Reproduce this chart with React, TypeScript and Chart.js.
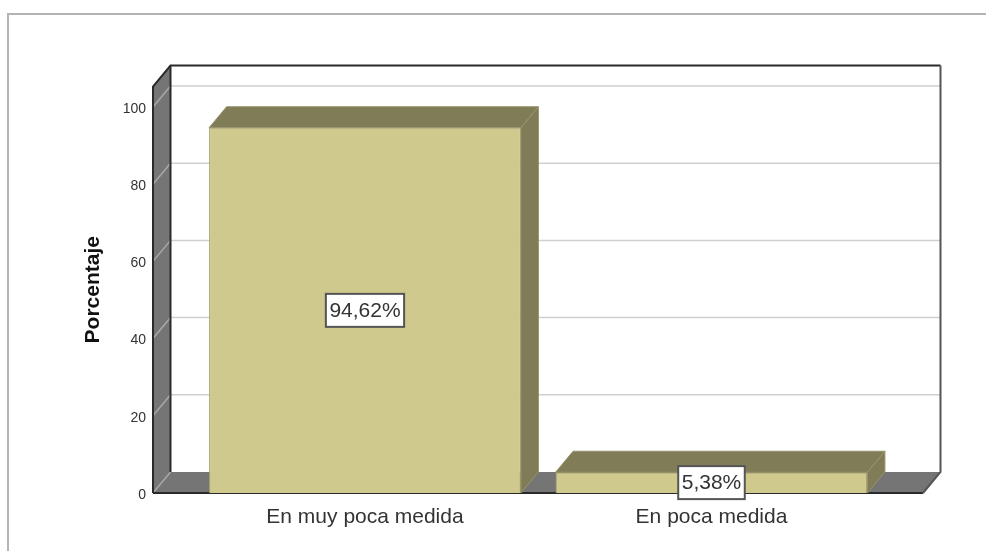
import React, { useEffect, useRef } from "react";
import { Chart, registerables } from "chart.js";

Chart.register(...registerables);

const categories = ["En muy poca medida", "En poca medida"];
const percentages = [94.62, 5.38];
const percentageLabels = ["94,62%", "5,38%"];
const yTicks = [0, 20, 40, 60, 80, 100];
const yAxisTitle = "Porcentaje";

const FONT = '"Liberation Sans", Arial, sans-serif';
const DX = 17.5;
const DY = -21;

const walls3D = {
  id: "walls3D",
  beforeDatasetsDraw(chart: any) {
    const { ctx, chartArea: a, scales } = chart;
    const y = scales.y;
    ctx.save();
    ctx.fillStyle = "#ffffff";
    ctx.fillRect(a.left + DX, a.top + DY, a.right - a.left, a.bottom - a.top);
    // side wall and floor
    ctx.fillStyle = "#757575";
    ctx.beginPath();
    ctx.moveTo(a.left, a.top);
    ctx.lineTo(a.left + DX, a.top + DY);
    ctx.lineTo(a.left + DX, a.bottom + DY);
    ctx.lineTo(a.left, a.bottom);
    ctx.closePath();
    ctx.fill();
    ctx.beginPath();
    ctx.moveTo(a.left, a.bottom);
    ctx.lineTo(a.left + DX, a.bottom + DY);
    ctx.lineTo(a.right + DX, a.bottom + DY);
    ctx.lineTo(a.right, a.bottom);
    ctx.closePath();
    ctx.fill();
    // gridlines
    ctx.lineWidth = 1.5;
    for (const t of yTicks) {
      const py = y.getPixelForValue(t);
      ctx.strokeStyle = "#a8a8a8";
      ctx.beginPath();
      ctx.moveTo(a.left, py);
      ctx.lineTo(a.left + DX, py + DY);
      ctx.stroke();
      if (t > 0) {
        ctx.strokeStyle = "#cfcfcf";
        ctx.beginPath();
        ctx.moveTo(a.left + DX, py + DY);
        ctx.lineTo(a.right + DX, py + DY);
        ctx.stroke();
      }
    }
    // outlines
    ctx.lineWidth = 2;
    ctx.strokeStyle = "#2a2a2a";
    ctx.beginPath();
    ctx.moveTo(a.left, a.bottom);
    ctx.lineTo(a.left, a.top);
    ctx.lineTo(a.left + DX, a.top + DY);
    ctx.lineTo(a.right + DX, a.top + DY);
    ctx.stroke();
    ctx.beginPath();
    ctx.moveTo(a.left + DX, a.top + DY);
    ctx.lineTo(a.left + DX, a.bottom + DY);
    ctx.stroke();
    ctx.beginPath();
    ctx.moveTo(a.left, a.bottom);
    ctx.lineTo(a.right, a.bottom);
    ctx.stroke();
    ctx.strokeStyle = "#555555";
    ctx.beginPath();
    ctx.moveTo(a.right + DX, a.top + DY);
    ctx.lineTo(a.right + DX, a.bottom + DY);
    ctx.lineTo(a.right, a.bottom);
    ctx.stroke();
    ctx.restore();
  },
  afterDatasetsDraw(chart: any) {
    const { ctx } = chart;
    const bars = chart.getDatasetMeta(0).data;
    ctx.save();
    bars.forEach((bar: any) => {
      const l = bar.x - bar.width / 2;
      const r = bar.x + bar.width / 2;
      const top = bar.y;
      const base = bar.base;
      ctx.fillStyle = "#807c58";
      ctx.strokeStyle = "#98946a";
      ctx.lineWidth = 1;
      ctx.beginPath();
      ctx.moveTo(l, top);
      ctx.lineTo(l + DX, top + DY);
      ctx.lineTo(r + DX, top + DY);
      ctx.lineTo(r, top);
      ctx.closePath();
      ctx.fill();
      ctx.stroke();
      ctx.beginPath();
      ctx.moveTo(r, top);
      ctx.lineTo(r + DX, top + DY);
      ctx.lineTo(r + DX, base + DY);
      ctx.lineTo(r, base);
      ctx.closePath();
      ctx.fill();
      ctx.stroke();
    });
    // value labels
    ctx.font = `21px ${FONT}`;
    ctx.textAlign = "center";
    ctx.textBaseline = "middle";
    bars.forEach((bar: any, i: number) => {
      const cy = (bar.y + bar.base) / 2;
      const text = percentageLabels[i];
      const w = ctx.measureText(text).width + 7;
      const h = 33;
      ctx.fillStyle = "#ffffff";
      ctx.strokeStyle = "#555555";
      ctx.lineWidth = 2;
      ctx.fillRect(bar.x - w / 2, cy - h / 2, w, h);
      ctx.strokeRect(bar.x - w / 2, cy - h / 2, w, h);
      ctx.fillStyle = "#333333";
      ctx.fillText(text, bar.x, cy + 1);
    });
    ctx.restore();
  },
};

export default function App() {
  const ref = useRef<HTMLCanvasElement>(null);
  useEffect(() => {
    document.body.style.margin = "0";
    document.body.style.background = "#ffffff";
    const chart = new Chart(ref.current as HTMLCanvasElement, {
      type: "bar",
      data: {
        datasets: [
          {
            data: percentages.map((v, i) => ({ x: i, y: v })),
            backgroundColor: "#cfc98d",
            borderColor: "#a8a472",
            borderWidth: 1,
            barPercentage: 0.9,
            categoryPercentage: 1,
          },
        ],
      },
      options: {
        responsive: false,
        animation: false,
        layout: { padding: { top: 86.5, right: 63, left: 0, bottom: 0 } },
        plugins: { legend: { display: false }, tooltip: { enabled: false } },
        scales: {
          x: {
            type: "linear",
            offset: false,
            min: -0.6118,
            max: 1.6104,
            grid: { display: false, drawTicks: false },
            border: { display: false },
            afterBuildTicks(axis: any) {
              axis.ticks = categories.map((_, i) => ({ value: i }));
            },
            afterFit(axis: any) {
              axis.height = 58;
            },
            ticks: {
              autoSkip: false,
              maxRotation: 0,
              padding: 12,
              color: "#333333",
              font: { family: FONT, size: 21 },
              callback: (v: any) => categories[v as number],
            },
          },
          y: {
            min: 0,
            max: 105.3,
            grid: { display: false, drawTicks: false },
            border: { display: false },
            afterBuildTicks(axis: any) {
              axis.ticks = yTicks.map((value) => ({ value }));
            },
            afterFit(axis: any) {
              axis.width = 153;
            },
            ticks: {
              padding: 7,
              labelOffset: 2,
              color: "#333333",
              font: { family: FONT, size: 14 },
            },
            title: {
              display: true,
              text: yAxisTitle,
              color: "#111111",
              padding: { top: 81, bottom: 0 },
              font: { family: FONT, size: 21, weight: "bold" },
            },
          },
        },
      },
      plugins: [walls3D],
    } as any);
    return () => chart.destroy();
  }, []);
  return (
    <div style={{ position: "relative", width: 986, height: 551, overflow: "hidden", background: "#fff" }}>
      <canvas ref={ref} width={986} height={551} style={{ position: "absolute", left: 0, top: 0, filter: "blur(0.35px)" }} />
      <div style={{ position: "absolute", left: 7, top: 13, width: 979, height: 538, borderTop: "2px solid #b4b4b4", borderLeft: "2px solid #b4b4b4", boxSizing: "border-box" }} />
    </div>
  );
}
